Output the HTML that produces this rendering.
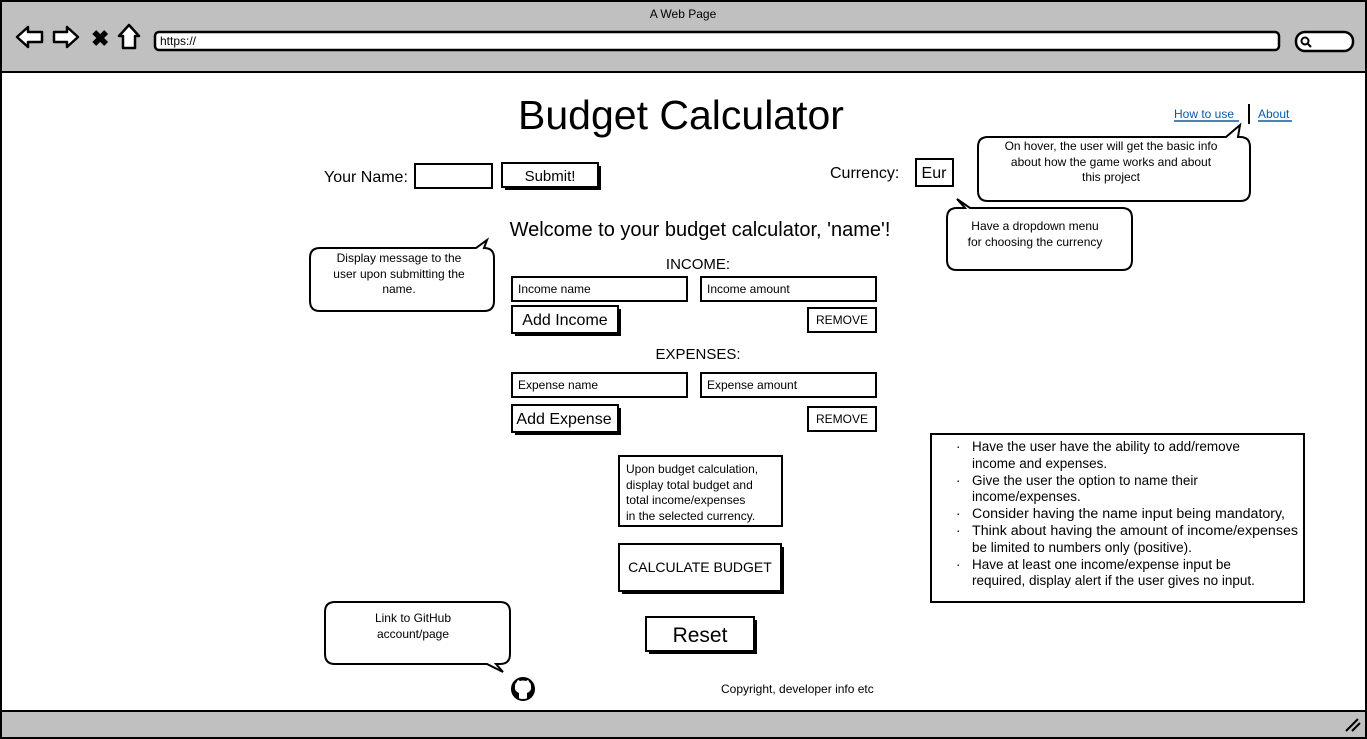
<!DOCTYPE html>
<html><head><meta charset="utf-8"><style>
html,body{margin:0;padding:0;background:#fff;}
svg{display:block;font-family:"Liberation Sans",sans-serif;}
text{fill:#000;}
</style></head><body>
<svg width="1367" height="739" viewBox="0 0 1367 739" xmlns="http://www.w3.org/2000/svg">
<rect x="1" y="1" width="1365" height="737" fill="#fff" stroke="#000" stroke-width="2"/>
<rect x="2" y="2" width="1363" height="70" fill="#c0c0c0"/>
<line x1="2" y1="72" x2="1365" y2="72" stroke="#000" stroke-width="2"/>
<rect x="2" y="711" width="1363" height="26" fill="#c0c0c0"/>
<line x1="2" y1="711" x2="1365" y2="711" stroke="#000" stroke-width="2"/>
<text x="683" y="18" font-size="12" text-anchor="middle">A Web Page</text>
<path d="M17 37 L28 27 L28 32 L42 32 L42 42 L28 42 L28 47 Z" fill="#fff" stroke="#000" stroke-width="2.5" stroke-linejoin="round"/>
<path d="M78 37 L67 27 L67 32 L54 32 L54 42 L67 42 L67 47 Z" fill="#fff" stroke="#000" stroke-width="2.5" stroke-linejoin="round"/>
<text x="91" y="46" font-size="22" font-weight="bold">✖</text>
<path d="M129 25 L119 36 L123 36 L123 48 L135 48 L135 36 L139 36 Z" fill="#fff" stroke="#000" stroke-width="2.5" stroke-linejoin="round"/>
<rect x="155" y="32" width="1124" height="18" rx="4" fill="#fff" stroke="#000" stroke-width="2.5"/>
<text x="160" y="45" font-size="12">https://</text>
<rect x="1296" y="32" width="57" height="19" rx="9" fill="#fff" stroke="#000" stroke-width="2.5"/>
<circle cx="1305" cy="41" r="3.5" fill="none" stroke="#000" stroke-width="2"/>
<line x1="1308" y1="44" x2="1311" y2="47" stroke="#000" stroke-width="2"/>
<path d="M1346 731 L1358 719 M1352 731 L1360 723" stroke="#000" stroke-width="2"/>

<text x="681" y="129" font-size="41" text-anchor="middle">Budget Calculator</text>
<text x="1174" y="118" font-size="12" style="fill:#0b5aa8">How to use</text>
<line x1="1174" y1="121" x2="1239" y2="121" stroke="#0b5aa8" stroke-width="1.5"/>
<line x1="1249" y1="104" x2="1249" y2="124" stroke="#000" stroke-width="2"/>
<text x="1258" y="118" font-size="12" style="fill:#0b5aa8">About</text>
<line x1="1258" y1="121" x2="1292" y2="121" stroke="#0b5aa8" stroke-width="1.5"/>

<text x="324" y="182" font-size="16">Your Name:</text>
<rect x="415" y="164" width="77" height="24" fill="#fff" stroke="#000" stroke-width="2"/>
<rect x="505" y="166" width="96" height="24" fill="#000"/>
<rect x="502" y="163" width="96" height="24" fill="#fff" stroke="#000" stroke-width="2"/>
<text x="550" y="181" font-size="15" text-anchor="middle">Submit!</text>
<text x="830" y="178" font-size="16">Currency:</text>
<rect x="916" y="159" width="37" height="27" fill="#fff" stroke="#000" stroke-width="2"/>
<text x="934" y="178" font-size="16" text-anchor="middle">Eur</text>

<path d="M988 137 L1226 137 L1240 125 L1238 137 L1240 137 Q1250 137 1250 147 L1250 191 Q1250 201 1240 201 L988 201 Q978 201 978 191 L978 147 Q978 137 988 137 Z" fill="#fff" stroke="#000" stroke-width="2"/>
<text x="1111" y="150" font-size="12" text-anchor="middle">On hover, the user will get the basic info</text>
<text x="1111" y="166" font-size="12" text-anchor="middle">about how the game works and about</text>
<text x="1111" y="181" font-size="12" text-anchor="middle">this project</text>

<path d="M957 208 L965 208 L957 199 L970 208 L1122 208 Q1132 208 1132 218 L1132 260 Q1132 270 1122 270 L957 270 Q947 270 947 260 L947 218 Q947 208 957 208 Z" fill="#fff" stroke="#000" stroke-width="2"/>
<text x="1035" y="230" font-size="12" text-anchor="middle">Have a dropdown menu</text>
<text x="1035" y="246" font-size="12" text-anchor="middle">for choosing the currency</text>

<path d="M320 248 L476 248 L487 240 L484 248 Q494 248 494 258 L494 301 Q494 311 484 311 L320 311 Q310 311 310 301 L310 258 Q310 248 320 248 Z" fill="#fff" stroke="#000" stroke-width="2"/>
<text x="399" y="262" font-size="12" text-anchor="middle">Display message to the</text>
<text x="399" y="278" font-size="12" text-anchor="middle">user upon submitting the</text>
<text x="399" y="293" font-size="12" text-anchor="middle">name.</text>

<path d="M335 602 L500 602 Q510 602 510 612 L510 654 Q510 664 500 664 L496 664 L503 672 L487 664 L335 664 Q325 664 325 654 L325 612 Q325 602 335 602 Z" fill="#fff" stroke="#000" stroke-width="2"/>
<text x="413" y="622" font-size="12" text-anchor="middle">Link to GitHub</text>
<text x="413" y="638" font-size="12" text-anchor="middle">account/page</text>

<text x="700" y="236" font-size="20" text-anchor="middle">Welcome to your budget calculator, 'name'!</text>
<text x="698" y="269" font-size="15" text-anchor="middle">INCOME:</text>
<rect x="512" y="277" width="175" height="24" fill="#fff" stroke="#000" stroke-width="2"/>
<text x="518" y="293" font-size="12">Income name</text>
<rect x="701" y="277" width="175" height="24" fill="#fff" stroke="#000" stroke-width="2"/>
<text x="707" y="293" font-size="12">Income amount</text>
<rect x="515" y="309" width="106" height="27" fill="#000"/>
<rect x="512" y="306" width="106" height="27" fill="#fff" stroke="#000" stroke-width="2"/>
<text x="565" y="325" font-size="16" text-anchor="middle">Add Income</text>
<rect x="808" y="308" width="68" height="24" fill="#fff" stroke="#000" stroke-width="2"/>
<text x="842" y="324" font-size="12" text-anchor="middle">REMOVE</text>

<text x="698" y="359" font-size="15" text-anchor="middle">EXPENSES:</text>
<rect x="512" y="373" width="175" height="24" fill="#fff" stroke="#000" stroke-width="2"/>
<text x="518" y="389" font-size="12">Expense name</text>
<rect x="701" y="373" width="175" height="24" fill="#fff" stroke="#000" stroke-width="2"/>
<text x="707" y="389" font-size="12">Expense amount</text>
<rect x="515" y="408" width="106" height="27" fill="#000"/>
<rect x="512" y="405" width="106" height="27" fill="#fff" stroke="#000" stroke-width="2"/>
<text x="564" y="424" font-size="16" text-anchor="middle">Add Expense</text>
<rect x="808" y="407" width="68" height="24" fill="#fff" stroke="#000" stroke-width="2"/>
<text x="842" y="423" font-size="12" text-anchor="middle">REMOVE</text>

<rect x="619" y="456" width="163" height="70" fill="#fff" stroke="#000" stroke-width="2"/>
<text x="626" y="473" font-size="12">Upon budget calculation,</text>
<text x="626" y="489" font-size="12">display total budget and</text>
<text x="626" y="504" font-size="12">total income/expenses</text>
<text x="626" y="520" font-size="12">in the selected currency.</text>

<rect x="622" y="547" width="162" height="47" fill="#000"/>
<rect x="619" y="544" width="162" height="47" fill="#fff" stroke="#000" stroke-width="2"/>
<text x="700" y="572" font-size="14" text-anchor="middle">CALCULATE BUDGET</text>

<rect x="649" y="620" width="108" height="34" fill="#000"/>
<rect x="646" y="617" width="108" height="34" fill="#fff" stroke="#000" stroke-width="2"/>
<text x="700" y="642" font-size="21" text-anchor="middle">Reset</text>

<rect x="931" y="434" width="373" height="168" fill="#fff" stroke="#000" stroke-width="2"/>
<g font-size="13.5">
<text x="956" y="451">·</text><text x="972" y="451">Have the user have the ability to add/remove</text>
<text x="972" y="468">income and expenses.</text>
<text x="956" y="485">·</text><text x="972" y="485">Give the user the option to name their</text>
<text x="972" y="501">income/expenses.</text>
<text x="956" y="518">·</text><text x="972" y="518" textLength="313" lengthAdjust="spacingAndGlyphs">Consider having the name input being mandatory,</text>
<text x="956" y="535">·</text><text x="972" y="535" textLength="326" lengthAdjust="spacingAndGlyphs">Think about having the amount of income/expenses</text>
<text x="972" y="552">be limited to numbers only (positive).</text>
<text x="956" y="569">·</text><text x="972" y="569">Have at least one income/expense input be</text>
<text x="972" y="585">required, display alert if the user gives no input.</text>
</g>

<circle cx="523" cy="689" r="11" fill="#000"/>
<path d="M519 699 L519 693 Q514 691 515 686 Q515 683 517 682 L517 679 L520 681 Q523 680 526 681 L529 679 L529 682 Q531 683 531 686 Q532 691 527 693 L527 699 Z" fill="#fff"/>
<circle cx="523" cy="689" r="11" fill="none" stroke="#000" stroke-width="2"/>
<text x="721" y="693" font-size="12">Copyright, developer info etc</text>
</svg>
</body></html>
